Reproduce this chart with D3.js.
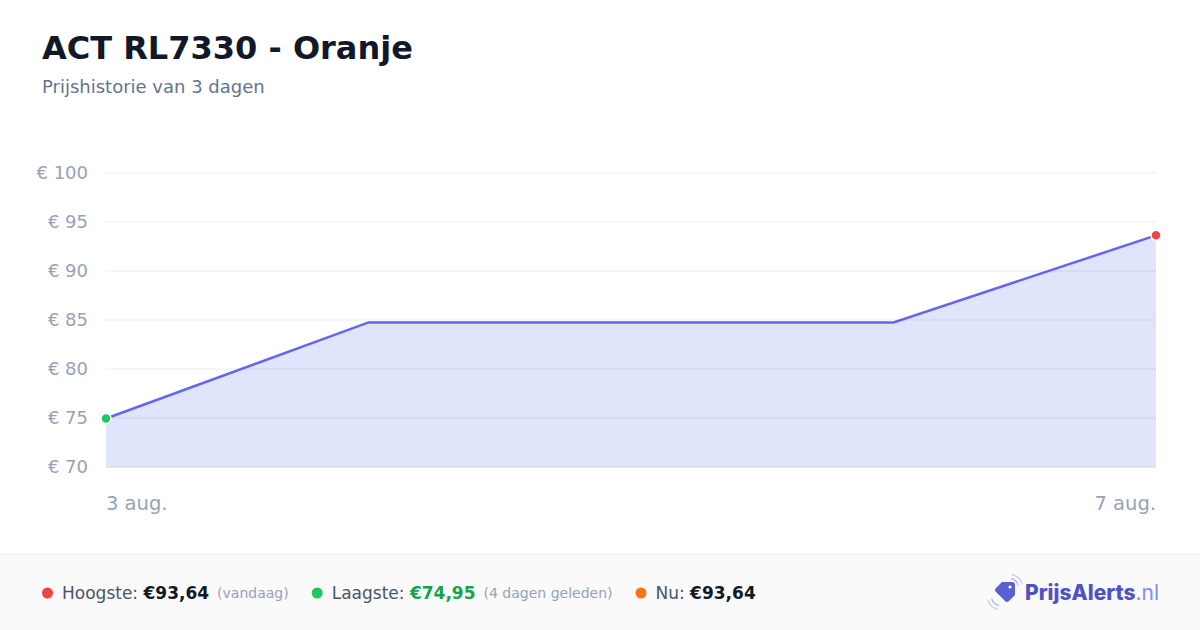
<!DOCTYPE html>
<html>
<head>
<meta charset="utf-8">
<style>
  body { margin: 0; background: #fff; font-family: 'DejaVu Sans', sans-serif; }
  svg { display: block; }
</style>
</head>
<body>
<svg width="1200" height="630"></svg>
<script src="https://d3js.org/d3.v7.min.js"></script>
<script>
// price data
let dates = ["2024-08-03", "2024-08-04", "2024-08-06", "2024-08-07"];
let prices = [74.95, 84.75, 84.75, 93.64];
let yTicks = [70, 75, 80, 85, 90, 95, 100];
let xTickLabels = ["3 aug.", "7 aug."];

let parse = d3.timeParse("%Y-%m-%d");
let data = dates.map((d, i) => ({ date: parse(d), price: prices[i] }));

let svg = d3.select("svg");
let margin = { left: 106, right: 44, top: 173, bottom: 163 };
let width = 1200, height = 630;

let x = d3.scaleTime()
  .domain(d3.extent(data, d => d.date))
  .range([margin.left, width - margin.right]);
let y = d3.scaleLinear()
  .domain([70, 100])
  .range([height - margin.bottom, margin.top]);

// title
svg.append("text").attr("x", 42).attr("y", 59)
  .text("ACT RL7330 - Oranje")
  .style("font-size", "32px").style("font-weight", "bold").style("fill", "#111827");
svg.append("text").attr("x", 42).attr("y", 93)
  .text("Prijshistorie van 3 dagen")
  .style("font-size", "18px").style("fill", "#64748b");

// area + line
let area = d3.area().x(d => x(d.date)).y0(y(70)).y1(d => y(d.price));
let line = d3.line().x(d => x(d.date)).y(d => y(d.price));

svg.append("path").datum(data).attr("d", area)
  .style("fill", "#e0e5fc");

// gridlines
svg.selectAll(".grid").data(yTicks.filter(t => t > 70)).join("line")
  .attr("x1", x.range()[0]).attr("x2", x.range()[1])
  .attr("y1", d => y(d)).attr("y2", d => y(d))
  .style("stroke", "#000").style("stroke-opacity", 0.05).style("stroke-width", 1.5);
svg.append("line")
  .attr("x1", x.range()[0]).attr("x2", x.range()[1])
  .attr("y1", y(70)).attr("y2", y(70))
  .style("stroke", "#dcdfe8").style("stroke-width", 1.5);

svg.append("path").datum(data).attr("d", line)
  .style("fill", "none").style("stroke", "#6366f1").style("stroke-width", 2.5);

// y labels
svg.selectAll(".ylab").data(yTicks).join("text")
  .attr("x", 88).attr("y", d => y(d) + 6)
  .attr("text-anchor", "end")
  .text(d => "€ " + d)
  .style("font-size", "18px").style("fill", "#94a3b8");

// x labels
let xEnds = [data[0].date, data[data.length - 1].date];
svg.selectAll(".xlab").data(xTickLabels).join("text")
  .attr("x", (d, i) => x(xEnds[i]))
  .attr("y", 510)
  .attr("text-anchor", (d, i) => i == 0 ? "start" : "end")
  .text(d => d)
  .style("font-size", "19.5px").style("fill", "#94a3b8");

// min / max dots
let minD = data[d3.minIndex(data, d => d.price)];
let maxD = data[d3.maxIndex(data, d => d.price)];
[[minD, "#22c55e"], [maxD, "#ef4444"]].forEach(([d, c]) => {
  svg.append("circle").attr("cx", x(d.date)).attr("cy", y(d.price)).attr("r", 5)
    .style("fill", c).style("stroke", "#fff").style("stroke-width", 1.5);
});

// footer band
svg.append("rect").attr("x", 0).attr("y", 554).attr("width", width).attr("height", 76)
  .style("fill", "#fafafa");
svg.append("line").attr("x1", 0).attr("x2", width).attr("y1", 554.5).attr("y2", 554.5)
  .style("stroke", "#f0f0f0");

let fmt = v => "€" + v.toFixed(2).replace(".", ",");
let footer = [
  { dot: "#ef4444", label: "Hoogste: ", value: fmt(d3.max(prices)), vcol: "#111827", note: "(vandaag)" },
  { dot: "#22c55e", label: "Laagste: ", value: fmt(d3.min(prices)), vcol: "#16a34a", note: "(4 dagen geleden)" },
  { dot: "#f97316", label: "Nu: ", value: fmt(prices[prices.length - 1]), vcol: "#111827", note: null }
];

let fx = 42;
footer.forEach(f => {
  svg.append("circle").attr("cx", fx + 5.5).attr("cy", 593).attr("r", 5.5).style("fill", f.dot);
  fx += 20;
  let t = svg.append("text").attr("x", fx).attr("y", 599).style("font-size", "17px");
  t.append("tspan").text(f.label).style("fill", "#475569");
  t.append("tspan").text(f.value).style("fill", f.vcol).style("font-weight", "bold");
  fx += t.node().getComputedTextLength() + 8;
  if (f.note) {
    let n = svg.append("text").attr("x", fx).attr("y", 598).text(f.note)
      .style("font-size", "14px").style("fill", "#94a3b8");
    fx += n.node().getComputedTextLength();
  }
  fx += 23;
});

// logo
let logo = svg.append("g").attr("transform", "translate(1005,592)");
logo.append("path")
  .attr("d", "M-9,-4 L-3,-10 L7,-10 Q10,-10 10,-7 L10,3 L4,9 Q2,11 0,9 L-9,0 Q-11,-2 -9,-4 Z")
  .style("fill", "#5b5fd6");
logo.append("circle").attr("cx", 5).attr("cy", -5).attr("r", 1.6).style("fill", "#fff");
[[9, 0.9], [13, 0.6]].forEach(([r, o]) => {
  logo.append("path").attr("d", d3.arc()({ innerRadius: r, outerRadius: r + 1.4, startAngle: 0.2, endAngle: 1.3 }))
    .attr("transform", "translate(4,-4)").style("fill", "#a5b4fc").style("opacity", o);
  logo.append("path").attr("d", d3.arc()({ innerRadius: r, outerRadius: r + 1.4, startAngle: Math.PI + 0.2, endAngle: Math.PI + 1.3 }))
    .attr("transform", "translate(-4,4)").style("fill", "#a5b4fc").style("opacity", o);
});
let lt = svg.append("text").attr("x", 1159).attr("y", 600).attr("text-anchor", "end")
  .style("font-family", "Inter, 'Open Sans', sans-serif").style("font-size", "21px");
lt.append("tspan").text("PrijsAlerts").style("font-weight", "800").style("fill", "#4f51c7");
lt.append("tspan").text(".nl").style("font-weight", "400").style("fill", "#818cf8");
</script>
</body>
</html>
